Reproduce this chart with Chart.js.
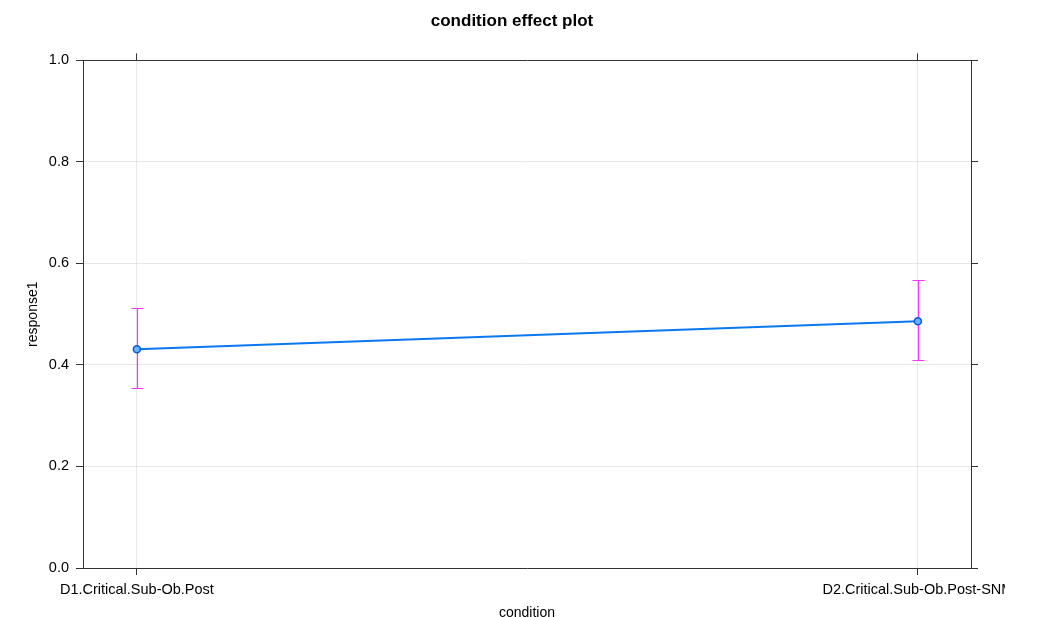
<!DOCTYPE html>
<html>
<head>
<meta charset="utf-8">
<script src="https://cdn.jsdelivr.net/npm/chart.js@4.4.1/dist/chart.umd.min.js"></script>
<style>
  html, body { margin: 0; padding: 0; background: #fff; }
  #wrap { width: 1005px; height: 617px; overflow: hidden; }
</style>
</head>
<body>
<div id="wrap"><canvas id="effectChart" width="1037" height="617"></canvas></div>
<script>
// dữ liệu
const categories = ['D1.Critical.Sub-Ob.Post', 'D2.Critical.Sub-Ob.Post-SNM'];
const fitValues = [0.431, 0.486];
const lowerValues = [0.354, 0.409];
const upperValues = [0.512, 0.567];
const yTicks = [0, 0.2, 0.4, 0.6, 0.8, 1.0];

const fontFamily = '"Liberation Sans", Arial, sans-serif';
const gridGray = 'rgba(0,0,0,0.09)';
const axisColor = '#333';

// vẽ thanh sai số (khoảng tin cậy) trước đường
const errorBars = {
    id: 'errorBars',
    beforeDatasetsDraw(chart) {
        const { ctx, scales: { x, y } } = chart;
        ctx.save();
        ctx.strokeStyle = '#ff33ff';
        ctx.lineWidth = 1.2;
        categories.forEach((c, i) => {
            const px = Math.round(x.getPixelForValue(i)) + 0.5;
            const top = Math.round(y.getPixelForValue(upperValues[i])) + 0.5;
            const bot = Math.round(y.getPixelForValue(lowerValues[i])) + 0.5;
            ctx.beginPath();
            ctx.moveTo(px, top); ctx.lineTo(px, bot);
            ctx.moveTo(px - 6, top); ctx.lineTo(px + 6, top);
            ctx.moveTo(px - 6, bot); ctx.lineTo(px + 6, bot);
            ctx.stroke();
        });
        ctx.restore();
    }
};

const tickFont = { family: fontFamily, size: 14.5 };
const titleFont = { family: fontFamily, size: 14 };

const ctx = document.getElementById('effectChart').getContext('2d');
const effectChart = new Chart(ctx, {
    type: 'line',
    data: {
        datasets: [{
            data: fitValues.map((v, i) => ({ x: i, y: v })),
            borderColor: '#0a78f0',
            borderWidth: 2,
            pointRadius: 3.5,
            pointBorderWidth: 1.5,
            pointBackgroundColor: '#6ab2ff',
            pointBorderColor: '#0a5ad8',
            tension: 0,
            fill: false
        }]
    },
    options: {
        responsive: false,
        animation: false,
        layout: { padding: { top: 7, right: 13, left: 0, bottom: 0 } },
        scales: {
            x: {
                type: 'linear',
                position: 'bottom',
                min: -0.069,
                max: 1.068,
                afterBuildTicks: axis => { axis.ticks = categories.map((c, i) => ({ value: i })); },
                afterFit: axis => { axis.height = 49; },
                ticks: {
                    color: '#000',
                    font: tickFont,
                    maxRotation: 0,
                    autoSkip: false,
                    callback: (v) => categories[v],
                    padding: 6
                },
                grid: { color: gridGray, tickColor: axisColor, tickLength: 7 },
                border: { color: axisColor, width: 1 },
                title: { display: true, text: 'condition', color: '#000', font: titleFont, padding: { top: 0, bottom: -5 } }
            },
            xTop: {
                type: 'linear',
                position: 'top',
                min: -0.069,
                max: 1.068,
                afterBuildTicks: axis => { axis.ticks = categories.map((c, i) => ({ value: i })); },
                ticks: { display: false },
                grid: { drawOnChartArea: false, tickColor: axisColor, tickLength: 7 },
                border: { color: axisColor, width: 1 }
            },
            y: {
                position: 'left',
                min: 0,
                max: 1,
                afterBuildTicks: axis => { axis.ticks = yTicks.map(v => ({ value: v })); },
                afterFit: axis => { axis.width = 83; },
                ticks: { color: '#000', font: tickFont, padding: 7, callback: v => v.toFixed(1) },
                grid: { color: gridGray, tickColor: axisColor, tickLength: 7 },
                border: { color: axisColor, width: 1 },
                title: { display: true, text: 'response1', color: '#000', font: titleFont, padding: { top: 25, bottom: 0 } }
            },
            yRight: {
                position: 'right',
                min: 0,
                max: 1,
                afterBuildTicks: axis => { axis.ticks = yTicks.map(v => ({ value: v })); },
                afterFit: axis => { axis.width = 53; },
                ticks: { display: false },
                grid: { drawOnChartArea: false, tickColor: axisColor, tickLength: 7 },
                border: { color: axisColor, width: 1 }
            }
        },
        plugins: {
            legend: { display: false },
            tooltip: { enabled: false },
            title: {
                display: true,
                text: 'condition effect plot',
                color: '#000',
                font: { family: fontFamily, size: 17, weight: 'bold' },
                padding: { top: 4, bottom: 22 }
            }
        }
    },
    plugins: [errorBars]
});
</script>
</body>
</html>
